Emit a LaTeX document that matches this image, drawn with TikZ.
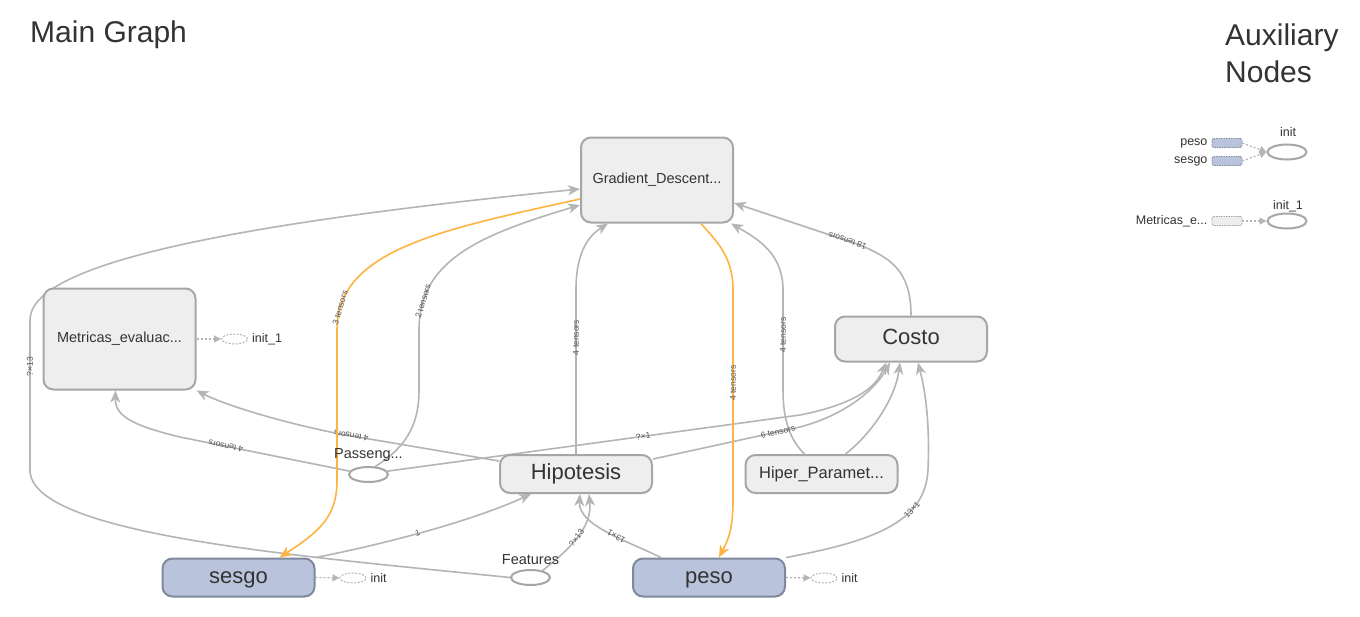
\documentclass[tikz,border=0pt]{standalone}
\usepackage{fontspec}
\setmainfont{Liberation Sans}
\usepackage{tikz}
\usetikzlibrary{calc,positioning,shapes.geometric,arrows.meta}
\definecolor{ink}{HTML}{333333}
\definecolor{elabc}{HTML}{555555}
\definecolor{edgegray}{HTML}{B5B5B5}
\definecolor{hot}{HTML}{FFB340}
\definecolor{opfill}{HTML}{EEEEEE}
\definecolor{opline}{HTML}{A6A6A6}
\definecolor{varfill}{HTML}{B9C4DC}
\definecolor{varline}{HTML}{7F889C}
\pgfdeclarelayer{back}
\pgfdeclarelayer{edges}
\pgfsetlayers{back,edges,main}
\tikzset{
  opnode/.style={draw=opline, fill=opfill, line width=2pt, rounded corners=10pt, text=ink, inner sep=0pt},
  varnode/.style={opnode, draw=varline, fill=varfill},
  bigtext/.style={font=\fontsize{22}{26}\selectfont, text height=16.5pt, text depth=5.5pt},
  midtext/.style={font=\fontsize{16.5}{18}\selectfont, text height=12.4pt, text depth=4.1pt},
  smalltext/.style={font=\fontsize{14.5}{16}\selectfont, text height=10.9pt, text depth=3.6pt},
  holder/.style={ellipse, draw=opline, line width=2pt, minimum width=39pt, minimum height=15pt, inner sep=0pt},
  ghost/.style={ellipse, draw=edgegray, line width=1pt, dash pattern=on 2pt off 1.5pt, minimum width=26pt, minimum height=10pt, inner sep=0pt},
  auxvar/.style={draw=varline, fill=varfill, line width=0.8pt, dash pattern=on 1.5pt off 1pt, rounded corners=2pt, minimum width=30pt, minimum height=9pt, inner sep=0pt},
  auxop/.style={auxvar, draw=opline, fill=opfill},
  edge/.style={draw=edgegray, line width=1.6pt, ->},
  hotedge/.style={edge, draw=hot},
  initedge/.style={draw=edgegray, line width=1.2pt, dash pattern=on 2pt off 2pt, -{Triangle[length=7pt,width=7pt]}},
  elab/.style={text=elabc, font=\fontsize{8.5}{9}\selectfont, sloped, allow upside down, inner sep=0pt},
  title/.style={text=ink, font=\fontsize{30}{37}\selectfont, inner sep=0pt},
  lab/.style={text=ink, font=\fontsize{14.5}{16}\selectfont, inner sep=0pt},
  smalllab/.style={text=ink, font=\fontsize{12.5}{14}\selectfont, inner sep=0pt},
  auxlab/.style={text=ink, font=\fontsize{12.5}{14}\selectfont, inner sep=0pt},
}
\begin{document}
\begin{tikzpicture}[x=1pt, y=-1pt, >={Stealth[length=12pt,width=10pt,inset=3.5pt]}]
  \begin{pgfonlayer}{back}
    \fill[white] (0,0) rectangle (1360,616);
  \end{pgfonlayer}
  \useasboundingbox (0,0) rectangle (1360,616);

  \node[title, anchor=west] (maintitle) at (30,35) {Main Graph};
  \node[title, anchor=west, align=left] (auxtitle) at (1225,53.5) {Auxiliary\\Nodes};

  % main graph
  \node[opnode, smalltext, minimum width=152pt, minimum height=85pt] (grad) at (657,180) {Gradient\_Descent...};
  \node[opnode, smalltext, minimum width=152pt, minimum height=101pt] (met) at (119.5,339) {Metricas\_evaluac...};
  \node[opnode, bigtext, minimum width=152pt, minimum height=45pt] (costo) at (911,339) {Costo};
  \node[opnode, bigtext, minimum width=152pt, minimum height=38pt] (hip) at (576,474) {Hipotesis};
  \node[opnode, midtext, minimum width=152pt, minimum height=38pt] (hiper) at (821.5,474) {Hiper\_Paramet...};
  \node[varnode, bigtext, minimum width=152pt, minimum height=38pt] (sesgo) at (238.5,577.5) {sesgo};
  \node[varnode, bigtext, minimum width=152pt, minimum height=38pt] (peso) at (709,577.5) {peso};
  \node[holder] (pass) at (368.5,474.5) {};
  \node[holder] (feat) at (530.5,577.5) {};
  \node[lab, above=4pt of pass] (passlab) {Passeng...};
  \node[lab, above=4pt of feat] (featlab) {Features};

  \node[ghost] (metinit) at (234.5,339) {};
  \node[ghost] (sesgoinit) at (353,578) {};
  \node[ghost] (pesoinit) at (824,578) {};
  \node[smalllab, right=4pt of metinit] (metinitlab) {init\_1};
  \node[smalllab, right=4pt of sesgoinit] (sesgoinitlab) {init};
  \node[smalllab, right=4pt of pesoinit] (pesoinitlab) {init};

  % auxiliary nodes
  \node[auxlab] (auxinitlab) at (1288,132) {init};
  \node[holder] (auxinit) at (1287,152) {};
  \node[auxvar] (auxpeso) at (1227,143) {};
  \node[auxvar] (auxsesgo) at (1227,161) {};
  \node[auxlab, left=4pt of auxpeso] (auxpesolab) {peso};
  \node[auxlab, left=4pt of auxsesgo] (auxsesgolab) {sesgo};
  \node[auxlab] (auxinit1lab) at (1288,206) {init\_1};
  \node[holder] (auxinit1) at (1287,221) {};
  \node[auxop] (auxmet) at (1227,221) {};
  \node[auxlab, left=4pt of auxmet] (auxmetlab) {Metricas\_e...};

  \begin{pgfonlayer}{edges}
    % data edges
    \draw[edge] (feat.west) .. controls (300,556) and (30,535) .. (30,470)
      -- (30,320) node[elab, pos=0.69] {?×13}
      .. controls (30,265) and (220,225) .. ($(grad.west)+(0,9)$);
    \draw[edge] (pass.50) .. controls (410,445) and (419,420) .. (419,390)
      -- (419,330)
      .. controls (419,260) and (480,235) .. ($(grad.west)+(0,25)$) node[elab, pos=0.15] {2 tensors};
    \draw[edge] (hip.north) -- (576,290) node[elab, pos=0.71] {4 tensors}
      .. controls (576,250) and (590,235) .. ($(grad.south)+(-49,0)$);
    \draw[edge] ($(hiper.north)+(-17,0)$) .. controls (790,440) and (783,420) .. (783,390)
      -- (783,290) node[elab, pos=0.55] {4 tensors}
      .. controls (783,255) and (760,240) .. ($(grad.south east)+(-3,0)$);
    \draw[edge] (costo.north) .. controls (911,270) and (890,258) .. (860,245)
      -- ($(grad.east)+(0,23)$) node[elab, pos=0.1] {18 tensors};
    \draw[edge] (pass.170) -- (180,437) node[elab, pos=0.73] {4 tensors}
      .. controls (130,425) and (115,415) .. ($(met.south)+(-4,0)$);
    \draw[edge] ($(hip.west)+(0,-13)$) -- (340,434) node[elab, pos=0.93] {4 tensors}
      .. controls (280,422) and (225,405) .. (met.south east);
    \draw[edge] (pass.10) -- (800,415) node[elab, pos=0.62] {?×1}
      .. controls (850,405) and (875,390) .. ($(costo.south)+(-25,0)$);
    \draw[edge] ($(hip.east)+(0,-15)$) -- (800,427) node[elab, pos=0.85] {6 tensors}
      .. controls (845,415) and (875,390) .. ($(costo.south)+(-21,0)$);
    \draw[edge] ($(hiper.north)+(24,0)$) .. controls (870,435) and (895,400) .. ($(costo.south)+(-11,0)$);
    \draw[edge] (peso.north east) .. controls (880,540) and (925,520) .. (928,470) node[elab, pos=0.68] {13×1}
      .. controls (930,420) and (925,390) .. ($(costo.south)+(7,0)$);
    \draw[edge] ($(peso.north)+(-48,0)$) .. controls (625,540) and (578,525) .. ($(hip.south)+(4,0)$) node[elab, pos=0.4] {13×1};
    \draw[edge] (feat.30) .. controls (575,545) and (592,525) .. ($(hip.south)+(13,0)$) node[elab, pos=0.45] {?×13};
    \draw[edge] (sesgo.north east) .. controls (380,545) and (470,522) .. ($(hip.south)+(-45,0)$) node[elab, pos=0.47] {1};

    % reference edges
    \draw[hotedge, <-] ($(sesgo.north)+(41,0)$) .. controls (322,530) and (337,515) .. (337,480)
      -- (337,330)
      .. controls (337,250) and (440,230) .. ($(grad.west)+(0,19)$) node[elab, pos=0.1] {3 tensors};
    \draw[hotedge, <-] ($(peso.north)+(10,0)$) .. controls (728,540) and (733,530) .. (733,500)
      -- (733,290) node[elab, pos=0.557] {4 tensors}
      .. controls (733,255) and (715,240) .. ($(grad.south)+(44,0)$);

    % init edges
    \draw[initedge] (met.east) -- (metinit.west);
    \draw[initedge] (sesgo.east) -- (sesgoinit.west);
    \draw[initedge] (peso.east) -- (pesoinit.west);
    \draw[initedge] (auxpeso.east) -- (auxinit.west);
    \draw[initedge] (auxsesgo.east) -- (auxinit.west);
    \draw[initedge] (auxmet.east) -- (auxinit1.west);
  \end{pgfonlayer}
\end{tikzpicture}
\end{document}
